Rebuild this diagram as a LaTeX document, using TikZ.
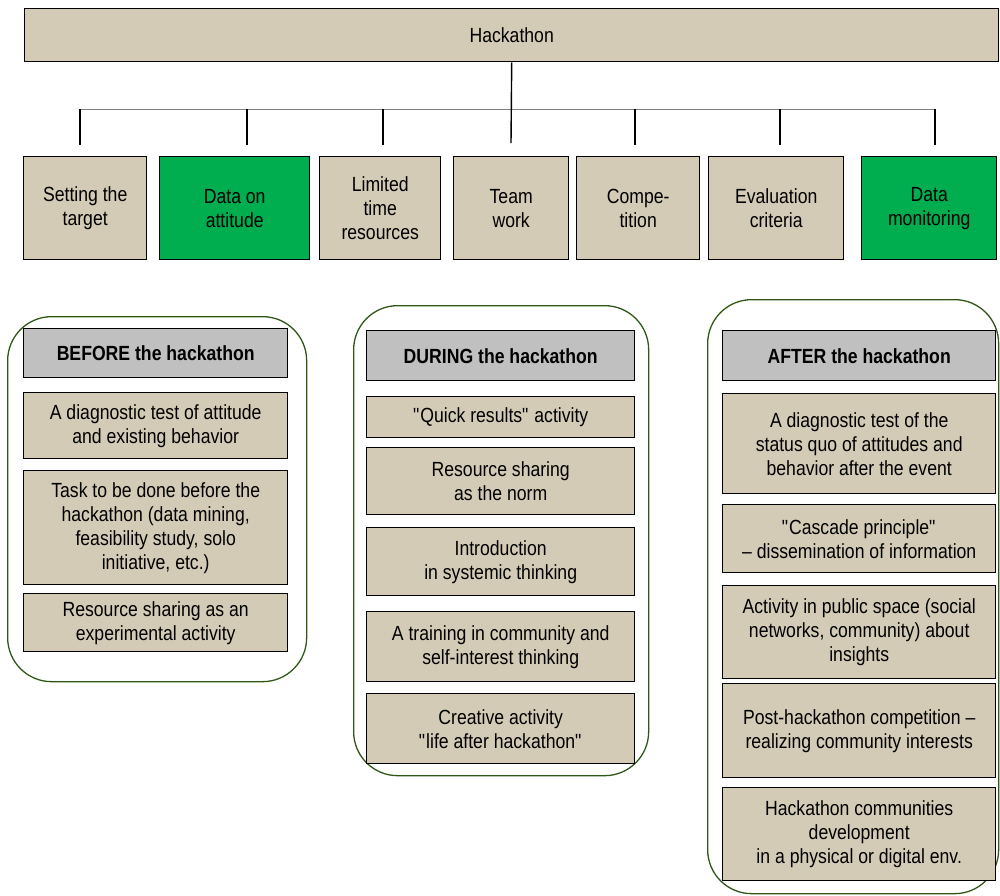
\documentclass[tikz,border=0pt]{standalone}
\usepackage{fontspec}
\setmainfont{Liberation Sans}[FakeStretch=0.86]
\definecolor{tan}{HTML}{D4CBB6}
\definecolor{boxgreen}{HTML}{00AD4F}
\definecolor{headgray}{HTML}{C0C0C0}
\definecolor{groupgreen}{HTML}{2F5718}
\definecolor{bargray}{HTML}{808080}
\tikzset{
  box/.style={draw=black, line width=1.4pt, fill=tan, align=center, inner sep=2pt,
    anchor=north west, font=\fontsize{20.5}{24}\selectfont},
  greenbox/.style={box, fill=boxgreen},
  headbox/.style={box, fill=headgray, font=\fontsize{20.5}{24}\selectfont\bfseries},
  group/.style={draw=groupgreen, line width=1.3pt, rounded corners=44pt, anchor=north west},
  tickline/.style={draw=black, line width=1.4pt},
  barline/.style={draw=bargray, line width=1pt}
}
\begin{document}
\begin{tikzpicture}[x=1pt,y=1pt]
\useasboundingbox (0,0) rectangle (1000,-895);

% groups
\node[group, minimum width=299pt, minimum height=365pt] (gBefore) at (7,-316) {};
\node[group, minimum width=295pt, minimum height=470pt] (gDuring) at (353,-305) {};
\node[group, minimum width=291pt, minimum height=594pt] (gAfter) at (707,-299) {};

% top
\node[box, minimum width=974pt, minimum height=53pt] (top) at (24,-8) {Hackathon};

% row boxes
\node[box, minimum width=123pt, minimum height=103pt] (r1) at (23,-156) {Setting the\\target};
\node[greenbox, minimum width=150pt, minimum height=103pt] (r2) at (159,-156) {Data on\\attitude};
\node[box, minimum width=121pt, minimum height=103pt] (r3) at (319,-156) {Limited\\time\\resources};
\node[box, minimum width=115pt, minimum height=103pt] (r4) at (453,-156) {Team\\work};
\node[box, minimum width=123pt, minimum height=103pt] (r5) at (576,-156) {Compe-\\tition};
\node[box, minimum width=135pt, minimum height=103pt] (r6) at (708,-156) {Evaluation\\criteria};
\node[greenbox, minimum width=135pt, minimum height=103pt] (r7) at (861,-156) {Data\\monitoring};

% connectors
\coordinate (h1) at (80,-109);
\coordinate (h2) at (247,-109);
\coordinate (h3) at (383,-109);
\coordinate (h5) at (635,-109);
\coordinate (h6) at (780,-109);
\coordinate (h7) at (935,-109);
\coordinate (t1) at (80,-145);
\coordinate (t2) at (247,-145);
\coordinate (t3) at (383,-145);
\coordinate (t4) at (511,-143);
\coordinate (t5) at (635,-145);
\coordinate (t6) at (780,-145);
\coordinate (t7) at (935,-145);
\draw[barline] (h1) -- (h7);
\draw[tickline] (top.south) -- (t4);
\draw[tickline] (h1) -- (t1);
\draw[tickline] (h2) -- (t2);
\draw[tickline] (h3) -- (t3);
\draw[tickline] (h5) -- (t5);
\draw[tickline] (h6) -- (t6);
\draw[tickline] (h7) -- (t7);

% BEFORE
\node[headbox, minimum width=264pt, minimum height=49pt] (bh) at (23,-328) {BEFORE the hackathon};
\node[box, minimum width=264pt, minimum height=66pt] (b1) at (23,-392) {A diagnostic test of attitude\\and existing behavior};
\node[box, minimum width=264pt, minimum height=114pt] (b2) at (23,-470) {Task to be done before the\\hackathon (data mining,\\feasibility study, solo\\initiative, etc.)};
\node[box, minimum width=264pt, minimum height=58pt] (b3) at (23,-593) {Resource sharing as an\\experimental activity};

% DURING
\node[headbox, minimum width=268pt, minimum height=50pt] (dh) at (366,-330) {DURING the hackathon};
\node[box, minimum width=268pt, minimum height=41pt] (d1) at (366,-396) {\textquotedbl Quick results\textquotedbl{} activity};
\node[box, minimum width=268pt, minimum height=67pt] (d2) at (366,-447) {Resource sharing\\as the norm};
\node[box, minimum width=268pt, minimum height=68pt] (d3) at (366,-527) {Introduction\\in systemic thinking};
\node[box, minimum width=268pt, minimum height=70pt] (d4) at (366,-611) {A training in community and\\self-interest thinking};
\node[box, minimum width=268pt, minimum height=70pt] (d5) at (366,-693) {Creative activity\\\textquotedbl life after hackathon\textquotedbl};

% AFTER
\node[headbox, minimum width=273pt, minimum height=50pt] (ah) at (722,-330) {AFTER the hackathon};
\node[box, minimum width=273pt, minimum height=100pt] (a1) at (722,-393) {A diagnostic test of the\\status quo of attitudes and\\behavior after the event};
\node[box, minimum width=273pt, minimum height=68pt] (a2) at (722,-504) {\textquotedbl Cascade principle\textquotedbl\\– dissemination of information};
\node[box, minimum width=273pt, minimum height=93pt] (a3) at (722,-585) {Activity in public space (social\\networks, community) about\\insights};
\node[box, minimum width=273pt, minimum height=94pt] (a4) at (722,-683) {Post-hackathon competition –\\realizing community interests};
\node[box, minimum width=273pt, minimum height=93pt] (a5) at (722,-787) {Hackathon communities\\development\\in a physical or digital env.};
\end{tikzpicture}
\end{document}
